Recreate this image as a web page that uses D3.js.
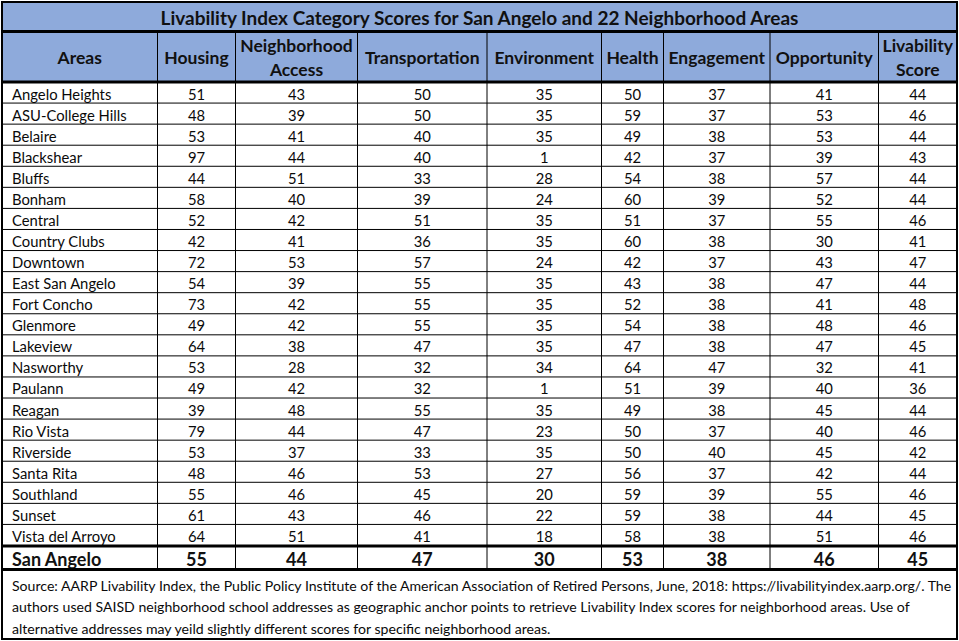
<!DOCTYPE html>
<html lang="en">
<head>
    <meta charset="UTF-8">
    <title>Livability Index Table</title>
    <style>
        body { margin: 0; background: #fff; }
        svg { display: block; }
    </style>
</head>
<body>
<script type='text/javascript' src='https://d3js.org/d3.v7.min.js'></script>
<script>
    var title = "Livability Index Category Scores for San Angelo and 22 Neighborhood Areas";
    var headers = [["Areas"], ["Housing"], ["Neighborhood", "Access"], ["Transportation"],
        ["Environment"], ["Health"], ["Engagement"], ["Opportunity"], ["Livability", "Score"]];
    var areas = ["Angelo Heights", "ASU-College Hills", "Belaire", "Blackshear", "Bluffs", "Bonham",
        "Central", "Country Clubs", "Downtown", "East San Angelo", "Fort Concho", "Glenmore",
        "Lakeview", "Nasworthy", "Paulann", "Reagan", "Rio Vista", "Riverside", "Santa Rita",
        "Southland", "Sunset", "Vista del Arroyo"];
    var housing =        [51, 48, 53, 97, 44, 58, 52, 42, 72, 54, 73, 49, 64, 53, 49, 39, 79, 53, 48, 55, 61, 64];
    var access =         [43, 39, 41, 44, 51, 40, 42, 41, 53, 39, 42, 42, 38, 28, 42, 48, 44, 37, 46, 46, 43, 51];
    var transportation = [50, 50, 40, 40, 33, 39, 51, 36, 57, 55, 55, 55, 47, 32, 32, 55, 47, 33, 53, 45, 46, 41];
    var environment =    [35, 35, 35, 1, 28, 24, 35, 35, 24, 35, 35, 35, 35, 34, 1, 35, 23, 35, 27, 20, 22, 18];
    var health =         [50, 59, 49, 42, 54, 60, 51, 60, 42, 43, 52, 54, 47, 64, 51, 49, 50, 50, 56, 59, 59, 58];
    var engagement =     [37, 37, 38, 37, 38, 39, 37, 38, 37, 38, 38, 38, 38, 47, 39, 38, 37, 40, 37, 39, 38, 38];
    var opportunity =    [41, 53, 53, 39, 57, 52, 55, 30, 43, 47, 41, 48, 47, 32, 40, 45, 40, 45, 42, 55, 44, 51];
    var livability =     [44, 46, 44, 43, 44, 44, 46, 41, 47, 44, 48, 46, 45, 41, 36, 44, 46, 42, 44, 46, 45, 46];
    var totalLabel = "San Angelo";
    var totals = [55, 44, 47, 30, 53, 38, 46, 45];
    var source = [
        "Source: AARP Livability Index, the Public Policy Institute of the American Association of Retired Persons, June, 2018: https://livabilityindex.aarp.org/. The",
        "authors used SAISD neighborhood school addresses as geographic anchor points to retrieve Livability Index scores for neighborhood areas. Use of",
        "alternative addresses may yeild slightly different scores for specific neighborhood areas."
    ];

    var series = [housing, access, transportation, environment, health, engagement, opportunity, livability];
    var rows = areas.map(function(a, i) {
        return [a].concat(series.map(function(s) { return s[i]; }));
    });

    const W = 959, H = 641;
    const font = "Lato, 'Open Sans', sans-serif";
    const headBg = "#8eaadb";
    // column boundaries
    const colEdges = [2, 157.5, 235.5, 357.5, 487, 601.5, 663.5, 770, 878.5, 957];
    const titleTop = 2, headTop = 31.5, bodyTop = 82, bodyBottom = 545.5,
          totalBottom = 569.5, footBottom = 639;

    const svg = d3.select("body").append("svg")
        .attr("width", W).attr("height", H)
        .style("font-family", font);

    var y = d3.scaleBand().domain(d3.range(areas.length)).range([bodyTop, bodyBottom]);
    var colX = function(i) { return colEdges[i]; };
    var colMid = function(i) { return (colEdges[i] + colEdges[i + 1]) / 2; };

    // header background
    svg.append("rect").attr("x", colEdges[0]).attr("y", titleTop)
        .attr("width", colEdges[9] - colEdges[0]).attr("height", bodyTop - titleTop)
        .attr("fill", headBg);

    // title
    svg.append("text").attr("x", (colEdges[0] + colEdges[9]) / 2).attr("y", 17)
        .attr("text-anchor", "middle").attr("dominant-baseline", "central")
        .attr("font-size", 19).attr("font-weight", "bold").attr("fill", "#111")
        .text(title);

    // header labels
    headers.forEach(function(h, i) {
        var cy = (headTop + bodyTop) / 2 + 1;
        h.forEach(function(line, j) {
            var off = h.length === 1 ? 0 : (j === 0 ? -12 : 12);
            svg.append("text").attr("x", colMid(i)).attr("y", cy + off)
                .attr("text-anchor", "middle").attr("dominant-baseline", "central")
                .attr("font-size", 17.5).attr("font-weight", "bold").attr("fill", "#111")
                .text(line);
        });
    });

    // body rows
    var g = svg.selectAll("g.row").data(rows).enter().append("g").attr("class", "row")
        .attr("transform", function(d, r) { return "translate(0," + (y(r) + y.bandwidth() / 2 + 1) + ")"; });
    g.selectAll("text").data(function(d) { return d; }).enter().append("text")
        .attr("x", function(d, i) { return i === 0 ? 12 : colMid(i); })
        .attr("y", 0)
        .attr("text-anchor", function(d, i) { return i === 0 ? "start" : "middle"; })
        .attr("dominant-baseline", "central")
        .attr("font-size", 14.8).attr("fill", "#0a0a0a")
        .text(function(d) { return d; });

    // total row
    var totalRow = [totalLabel].concat(totals);
    svg.selectAll("text.total").data(totalRow).enter().append("text").attr("class", "total")
        .attr("x", function(d, i) { return i === 0 ? 12 : colMid(i); })
        .attr("y", (bodyBottom + totalBottom) / 2 + 1)
        .attr("text-anchor", function(d, i) { return i === 0 ? "start" : "middle"; })
        .attr("dominant-baseline", "central")
        .attr("font-size", 18).attr("font-weight", "bold").attr("fill", "#111")
        .text(function(d) { return d; });

    // footnote, sized so the first line fills the box like the original
    var foot = svg.selectAll("text.foot").data(source).enter().append("text").attr("class", "foot")
        .attr("x", 12)
        .attr("y", function(d, i) { return 585 + i * 21.5; })
        .attr("dominant-baseline", "central")
        .attr("font-size", 14).attr("fill", "#0a0a0a")
        .text(function(d) { return d; });
    var w0 = foot.nodes()[0].getComputedTextLength();
    var fs = Math.min(15, 14 * 940 / w0);
    foot.attr("font-size", fs);

    // grid lines
    var thin = svg.append("g").attr("stroke", "#000").attr("stroke-width", 1);
    d3.range(1, areas.length).forEach(function(r) {
        thin.append("line").attr("x1", colEdges[0]).attr("x2", colEdges[9])
            .attr("y1", y(r)).attr("y2", y(r));
    });
    d3.range(1, 9).forEach(function(c) {
        thin.append("line").attr("x1", colX(c)).attr("x2", colX(c))
            .attr("y1", headTop).attr("y2", totalBottom);
    });
    var thick = svg.append("g").attr("stroke", "#000").attr("stroke-width", 3);
    [headTop, bodyTop, bodyBottom + 0.5, totalBottom].forEach(function(yy) {
        thick.append("line").attr("x1", colEdges[0]).attr("x2", colEdges[9])
            .attr("y1", yy).attr("y2", yy);
    });
    svg.append("rect").attr("x", colEdges[0]).attr("y", titleTop)
        .attr("width", colEdges[9] - colEdges[0]).attr("height", footBottom - titleTop)
        .attr("fill", "none").attr("stroke", "#000").attr("stroke-width", 2);
</script>
</body>
</html>
